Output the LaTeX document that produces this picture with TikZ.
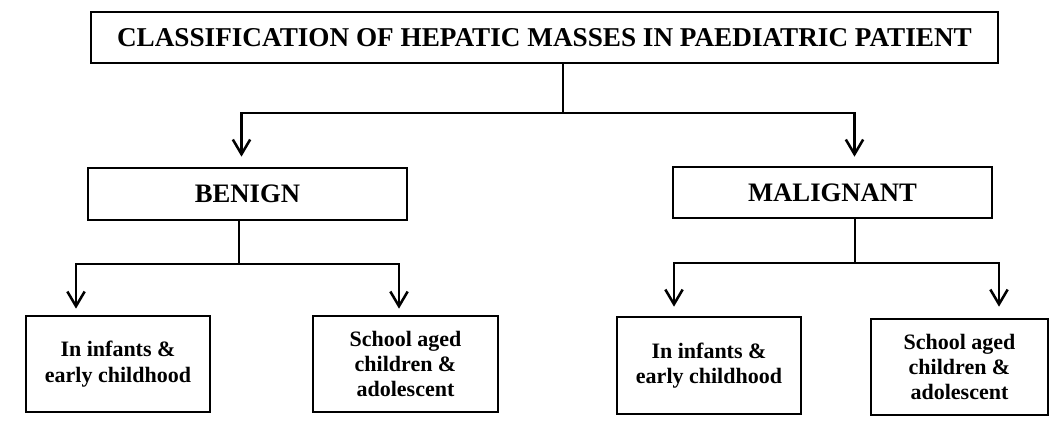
\documentclass[tikz,border=0pt]{standalone}
\usepackage{fontspec}
\setmainfont{Liberation Serif}
\usetikzlibrary{arrows.meta}
\newlength{\du}
\setlength{\du}{0.75pt}

\begin{document}
\begin{tikzpicture}
\pgftransformxscale{1.000000}
\pgftransformyscale{-1.000000}
\definecolor{dialinecolor}{rgb}{0.000000, 0.000000, 0.000000}
\tikzset{
  classbox/.style={draw=dialinecolor, line width=2pt, rectangle, inner sep=0pt, align=center},
  titletext/.style={font=\bfseries\fontsize{20.4}{24}\selectfont},
  headtext/.style={font=\bfseries\fontsize{20}{24}\selectfont},
  subtext/.style={font=\bfseries\fontsize{16.5}{19}\selectfont},
  conn/.style={draw=dialinecolor, line width=1.9pt},
  arr/.style={conn, -{Straight Barb[length=11pt,width=13pt,line width=1.9pt]}}
}
\useasboundingbox (0\du,0\du) rectangle (1051\du,421\du);
% setfont left to latex
\node[classbox, titletext, minimum width=907\du, minimum height=51\du] (title) at (544.5\du,37.5\du){CLASSIFICATION OF HEPATIC MASSES IN PAEDIATRIC PATIENT};
% setfont left to latex
\node[classbox, headtext, minimum width=319\du, minimum height=52\du] (benign) at (247.5\du,194\du){BENIGN};
\node[classbox, headtext, minimum width=319\du, minimum height=51\du] (malignant) at (832.5\du,192.5\du){MALIGNANT};
% setfont left to latex
\node[classbox, subtext, minimum width=184\du, minimum height=96\du] (bInfant) at (118\du,364\du){In infants \&\\early childhood};
\node[classbox, subtext, minimum width=185\du, minimum height=96\du] (bSchool) at (405.5\du,364\du){School aged\\children \&\\adolescent};
\node[classbox, subtext, minimum width=184\du, minimum height=97\du] (mInfant) at (709\du,365.5\du){In infants \&\\early childhood};
\node[classbox, subtext, minimum width=177\du, minimum height=96\du] (mSchool) at (959.5\du,367\du){School aged\\children \&\\adolescent};
% was here!!!
\coordinate (hub0) at (563\du,113\du);
\coordinate (hub1) at (239\du,264\du);
\coordinate (hub2) at (855\du,263\du);
\draw[conn] (title.south -| hub0) -- (hub0);
\draw[arr, shorten >=10\du] (hub0) -| ([xshift=-6\du]benign.north);
\draw[arr, shorten >=9\du] (hub0) -| ([xshift=22\du]malignant.north);
\draw[conn] (benign.south -| hub1) -- (hub1);
\draw[arr, shorten >=6\du] (hub1) -| ([xshift=-42\du]bInfant.north);
\draw[arr, shorten >=6\du] (hub1) -| ([xshift=-6.5\du]bSchool.north);
\draw[conn] (malignant.south -| hub2) -- (hub2);
\draw[arr, shorten >=9\du] (hub2) -| ([xshift=-35\du]mInfant.north);
\draw[arr, shorten >=11\du] (hub2) -| ([xshift=39.5\du]mSchool.north);
\end{tikzpicture}
\end{document}
